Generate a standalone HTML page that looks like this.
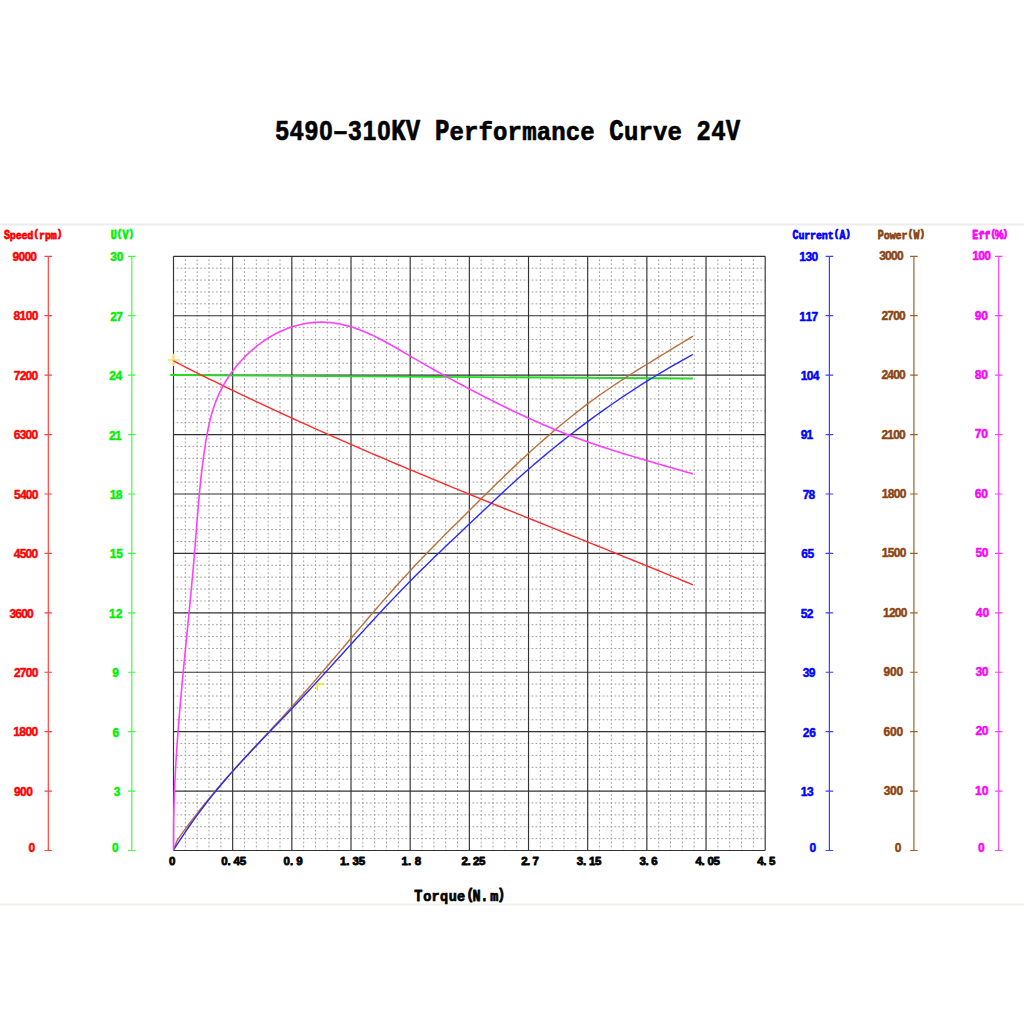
<!DOCTYPE html><html><head><meta charset="utf-8"><style>html,body{margin:0;padding:0;background:#fff;overflow:hidden}svg{display:block}</style></head><body>
<svg width="1024" height="1024" viewBox="0 0 1024 1024">
<rect width="1024" height="1024" fill="#fff"/>
<rect x="0" y="223.5" width="1024" height="2" fill="#ececec"/>
<rect x="0" y="903.5" width="1024" height="2" fill="#f1f1ea"/>
<g font-family="Liberation Sans" font-weight="bold" font-size="24.00" fill="#000" stroke="#000" stroke-width="0.60" stroke-linejoin="round"><text transform="translate(282.24,140.30) scale(1.000,1.165)" x="-6.67" y="0">5</text><text transform="translate(296.77,140.30) scale(1.000,1.165)" x="-6.67" y="0">4</text><text transform="translate(311.31,140.30) scale(1.000,1.165)" x="-6.67" y="0">9</text><text transform="translate(325.84,140.30) scale(1.000,1.165)" x="-6.67" y="0">0</text><text transform="translate(340.38,140.30) scale(1.000,1.165)" x="-6.67" y="0">–</text><text transform="translate(354.91,140.30) scale(1.000,1.165)" x="-6.67" y="0">3</text><text transform="translate(369.45,140.30) scale(1.000,1.165)" x="-6.67" y="0">1</text><text transform="translate(383.98,140.30) scale(1.000,1.165)" x="-6.67" y="0">0</text><text font-family="Liberation Mono" transform="translate(398.52,140.30) scale(1.000,1.239)" x="-7.20" y="0">K</text><text font-family="Liberation Mono" transform="translate(413.05,140.30) scale(1.000,1.239)" x="-7.20" y="0">V</text><text font-family="Liberation Mono" transform="translate(442.12,140.30) scale(1.000,1.239)" x="-7.20" y="0">P</text><text font-family="Liberation Mono" transform="translate(456.66,140.30) scale(1.000,1.095)" x="-7.20" y="0">e</text><text font-family="Liberation Mono" transform="translate(471.19,140.30) scale(1.000,1.095)" x="-7.20" y="0">r</text><text font-family="Liberation Mono" transform="translate(485.73,140.30) scale(1.000,1.095)" x="-7.20" y="0">f</text><text font-family="Liberation Mono" transform="translate(500.26,140.30) scale(1.000,1.095)" x="-7.20" y="0">o</text><text font-family="Liberation Mono" transform="translate(514.80,140.30) scale(1.000,1.095)" x="-7.20" y="0">r</text><text font-family="Liberation Mono" transform="translate(529.33,140.30) scale(1.000,1.095)" x="-7.20" y="0">m</text><text font-family="Liberation Mono" transform="translate(543.87,140.30) scale(1.000,1.095)" x="-7.20" y="0">a</text><text font-family="Liberation Mono" transform="translate(558.40,140.30) scale(1.000,1.095)" x="-7.20" y="0">n</text><text font-family="Liberation Mono" transform="translate(572.94,140.30) scale(1.000,1.095)" x="-7.20" y="0">c</text><text font-family="Liberation Mono" transform="translate(587.47,140.30) scale(1.000,1.095)" x="-7.20" y="0">e</text><text font-family="Liberation Mono" transform="translate(616.54,140.30) scale(1.000,1.239)" x="-7.20" y="0">C</text><text font-family="Liberation Mono" transform="translate(631.08,140.30) scale(1.000,1.095)" x="-7.20" y="0">u</text><text font-family="Liberation Mono" transform="translate(645.61,140.30) scale(1.000,1.095)" x="-7.20" y="0">r</text><text font-family="Liberation Mono" transform="translate(660.15,140.30) scale(1.000,1.095)" x="-7.20" y="0">v</text><text font-family="Liberation Mono" transform="translate(674.68,140.30) scale(1.000,1.095)" x="-7.20" y="0">e</text><text transform="translate(703.75,140.30) scale(1.000,1.165)" x="-6.67" y="0">2</text><text transform="translate(718.29,140.30) scale(1.000,1.165)" x="-6.67" y="0">4</text><text font-family="Liberation Mono" transform="translate(732.82,140.30) scale(1.000,1.239)" x="-7.20" y="0">V</text></g>
<path d="M185.33,256.3V850.5M197.17,256.3V850.5M209.00,256.3V850.5M220.84,256.3V850.5M244.50,256.3V850.5M256.34,256.3V850.5M268.17,256.3V850.5M280.01,256.3V850.5M303.67,256.3V850.5M315.51,256.3V850.5M327.34,256.3V850.5M339.18,256.3V850.5M362.84,256.3V850.5M374.68,256.3V850.5M386.51,256.3V850.5M398.35,256.3V850.5M422.01,256.3V850.5M433.85,256.3V850.5M445.68,256.3V850.5M457.52,256.3V850.5M481.18,256.3V850.5M493.02,256.3V850.5M504.85,256.3V850.5M516.69,256.3V850.5M540.35,256.3V850.5M552.19,256.3V850.5M564.02,256.3V850.5M575.86,256.3V850.5M599.52,256.3V850.5M611.36,256.3V850.5M623.19,256.3V850.5M635.03,256.3V850.5M658.69,256.3V850.5M670.53,256.3V850.5M682.36,256.3V850.5M694.20,256.3V850.5M717.86,256.3V850.5M729.70,256.3V850.5M741.53,256.3V850.5M753.37,256.3V850.5" stroke="#9e9e9e" stroke-width="1" stroke-dasharray="1.7,2.261" stroke-dashoffset="0.85" fill="none"/>
<path d="M173.5,268.18H765.2M173.5,280.07H765.2M173.5,291.95H765.2M173.5,303.84H765.2M173.5,327.60H765.2M173.5,339.49H765.2M173.5,351.37H765.2M173.5,363.26H765.2M173.5,387.02H765.2M173.5,398.91H765.2M173.5,410.79H765.2M173.5,422.68H765.2M173.5,446.44H765.2M173.5,458.33H765.2M173.5,470.21H765.2M173.5,482.10H765.2M173.5,505.86H765.2M173.5,517.75H765.2M173.5,529.63H765.2M173.5,541.52H765.2M173.5,565.28H765.2M173.5,577.17H765.2M173.5,589.05H765.2M173.5,600.94H765.2M173.5,624.70H765.2M173.5,636.59H765.2M173.5,648.47H765.2M173.5,660.36H765.2M173.5,684.12H765.2M173.5,696.01H765.2M173.5,707.89H765.2M173.5,719.78H765.2M173.5,743.54H765.2M173.5,755.43H765.2M173.5,767.31H765.2M173.5,779.20H765.2M173.5,802.96H765.2M173.5,814.85H765.2M173.5,826.73H765.2M173.5,838.62H765.2" stroke="#9e9e9e" stroke-width="1" stroke-dasharray="1.7,2.245" stroke-dashoffset="0.85" fill="none"/>
<path d="M173.50,256.3V850.5M232.67,256.3V850.5M291.84,256.3V850.5M351.01,256.3V850.5M410.18,256.3V850.5M469.35,256.3V850.5M528.52,256.3V850.5M587.69,256.3V850.5M646.86,256.3V850.5M706.03,256.3V850.5M765.20,256.3V850.5M173.5,256.30H765.2M173.5,315.72H765.2M173.5,375.14H765.2M173.5,434.56H765.2M173.5,493.98H765.2M173.5,553.40H765.2M173.5,612.82H765.2M173.5,672.24H765.2M173.5,731.66H765.2M173.5,791.08H765.2M173.5,850.50H765.2" stroke="#333" stroke-width="1.15" fill="none"/>
<path d="M48.3,256.3V850.5" stroke="#ff4040" stroke-width="1.2" fill="none"/>
<path d="M44.5,850.50H52.1M44.5,791.08H52.1M44.5,731.66H52.1M44.5,672.24H52.1M44.5,612.82H52.1M44.5,553.40H52.1M44.5,493.98H52.1M44.5,434.56H52.1M44.5,375.14H52.1M44.5,315.72H52.1M44.5,256.30H52.1" stroke="#ff4040" stroke-width="1.2" fill="none"/>
<text x="28.57" y="851.94" font-family="Liberation Sans" font-weight="bold" font-size="12.00" fill="#ff0000" stroke="#ff0000" stroke-width="0.45" stroke-linejoin="round" transform="translate(0,851.94) scale(1,1.000) translate(0,-851.94)">0</text>
<g font-family="Liberation Sans" font-weight="bold" font-size="12.00" fill="#ff0000" stroke="#ff0000" stroke-width="0.45" stroke-linejoin="round"><text transform="translate(17.42,795.77) scale(1.000,1.000)" x="-3.34" y="0">9</text><text transform="translate(23.44,795.77) scale(1.000,1.000)" x="-3.34" y="0">0</text><text transform="translate(29.46,795.77) scale(1.000,1.000)" x="-3.34" y="0">0</text></g>
<g font-family="Liberation Sans" font-weight="bold" font-size="12.00" fill="#ff0000" stroke="#ff0000" stroke-width="0.45" stroke-linejoin="round"><text transform="translate(16.48,736.35) scale(1.000,1.000)" x="-3.34" y="0">1</text><text transform="translate(22.61,736.35) scale(1.000,1.000)" x="-3.34" y="0">8</text><text transform="translate(28.73,736.35) scale(1.000,1.000)" x="-3.34" y="0">0</text><text transform="translate(34.86,736.35) scale(1.000,1.000)" x="-3.34" y="0">0</text></g>
<g font-family="Liberation Sans" font-weight="bold" font-size="12.00" fill="#ff0000" stroke="#ff0000" stroke-width="0.45" stroke-linejoin="round"><text transform="translate(17.29,676.93) scale(1.000,1.000)" x="-3.34" y="0">2</text><text transform="translate(23.19,676.93) scale(1.000,1.000)" x="-3.34" y="0">7</text><text transform="translate(29.09,676.93) scale(1.000,1.000)" x="-3.34" y="0">0</text><text transform="translate(34.99,676.93) scale(1.000,1.000)" x="-3.34" y="0">0</text></g>
<g font-family="Liberation Sans" font-weight="bold" font-size="12.00" fill="#ff0000" stroke="#ff0000" stroke-width="0.45" stroke-linejoin="round"><text transform="translate(12.71,617.51) scale(1.000,1.000)" x="-3.34" y="0">3</text><text transform="translate(18.61,617.51) scale(1.000,1.000)" x="-3.34" y="0">6</text><text transform="translate(24.51,617.51) scale(1.000,1.000)" x="-3.34" y="0">0</text><text transform="translate(30.41,617.51) scale(1.000,1.000)" x="-3.34" y="0">0</text></g>
<g font-family="Liberation Sans" font-weight="bold" font-size="12.00" fill="#ff0000" stroke="#ff0000" stroke-width="0.45" stroke-linejoin="round"><text transform="translate(17.06,558.09) scale(1.000,1.000)" x="-3.34" y="0">4</text><text transform="translate(22.99,558.09) scale(1.000,1.000)" x="-3.34" y="0">5</text><text transform="translate(28.92,558.09) scale(1.000,1.000)" x="-3.34" y="0">0</text><text transform="translate(34.86,558.09) scale(1.000,1.000)" x="-3.34" y="0">0</text></g>
<g font-family="Liberation Sans" font-weight="bold" font-size="12.00" fill="#ff0000" stroke="#ff0000" stroke-width="0.45" stroke-linejoin="round"><text transform="translate(17.31,498.67) scale(1.000,1.000)" x="-3.34" y="0">5</text><text transform="translate(23.21,498.67) scale(1.000,1.000)" x="-3.34" y="0">4</text><text transform="translate(29.11,498.67) scale(1.000,1.000)" x="-3.34" y="0">0</text><text transform="translate(35.01,498.67) scale(1.000,1.000)" x="-3.34" y="0">0</text></g>
<g font-family="Liberation Sans" font-weight="bold" font-size="12.00" fill="#ff0000" stroke="#ff0000" stroke-width="0.45" stroke-linejoin="round"><text transform="translate(17.10,439.25) scale(1.000,1.000)" x="-3.34" y="0">6</text><text transform="translate(23.02,439.25) scale(1.000,1.000)" x="-3.34" y="0">3</text><text transform="translate(28.94,439.25) scale(1.000,1.000)" x="-3.34" y="0">0</text><text transform="translate(34.86,439.25) scale(1.000,1.000)" x="-3.34" y="0">0</text></g>
<g font-family="Liberation Sans" font-weight="bold" font-size="12.00" fill="#ff0000" stroke="#ff0000" stroke-width="0.45" stroke-linejoin="round"><text transform="translate(17.02,379.83) scale(1.000,1.000)" x="-3.34" y="0">7</text><text transform="translate(22.97,379.83) scale(1.000,1.000)" x="-3.34" y="0">2</text><text transform="translate(28.91,379.83) scale(1.000,1.000)" x="-3.34" y="0">0</text><text transform="translate(34.86,379.83) scale(1.000,1.000)" x="-3.34" y="0">0</text></g>
<g font-family="Liberation Sans" font-weight="bold" font-size="12.00" fill="#ff0000" stroke="#ff0000" stroke-width="0.45" stroke-linejoin="round"><text transform="translate(16.76,320.41) scale(1.000,1.000)" x="-3.34" y="0">8</text><text transform="translate(22.86,320.41) scale(1.000,1.000)" x="-3.34" y="0">1</text><text transform="translate(28.96,320.41) scale(1.000,1.000)" x="-3.34" y="0">0</text><text transform="translate(35.06,320.41) scale(1.000,1.000)" x="-3.34" y="0">0</text></g>
<g font-family="Liberation Sans" font-weight="bold" font-size="12.00" fill="#ff0000" stroke="#ff0000" stroke-width="0.45" stroke-linejoin="round"><text transform="translate(15.82,260.99) scale(1.000,1.000)" x="-3.34" y="0">9</text><text transform="translate(21.77,260.99) scale(1.000,1.000)" x="-3.34" y="0">0</text><text transform="translate(27.71,260.99) scale(1.000,1.000)" x="-3.34" y="0">0</text><text transform="translate(33.66,260.99) scale(1.000,1.000)" x="-3.34" y="0">0</text></g>
<g font-family="Liberation Sans" font-weight="bold" font-size="10.00" fill="#ff0000" stroke="#ff0000" stroke-width="0.65" stroke-linejoin="round"><text font-family="Liberation Mono" transform="translate(6.91,238.60) scale(1.000,1.275)" x="-3.00" y="0">S</text><text font-family="Liberation Mono" transform="translate(12.77,238.60) scale(1.000,1.168)" x="-3.00" y="0">p</text><text font-family="Liberation Mono" transform="translate(18.63,238.60) scale(1.000,1.168)" x="-3.00" y="0">e</text><text font-family="Liberation Mono" transform="translate(24.49,238.60) scale(1.000,1.168)" x="-3.00" y="0">e</text><text font-family="Liberation Mono" transform="translate(30.35,238.60) scale(1.000,1.168)" x="-3.00" y="0">d</text><text transform="translate(36.20,237.19) scale(1.000,1.080)" x="-1.67" y="0">(</text><text font-family="Liberation Mono" transform="translate(42.06,238.60) scale(1.000,1.168)" x="-3.00" y="0">r</text><text font-family="Liberation Mono" transform="translate(47.92,238.60) scale(1.000,1.168)" x="-3.00" y="0">p</text><text font-family="Liberation Mono" transform="translate(53.78,238.60) scale(1.000,1.168)" x="-3.00" y="0">m</text><text transform="translate(59.63,237.19) scale(1.000,1.080)" x="-1.67" y="0">)</text></g>
<path d="M131.8,256.3V850.5" stroke="#40ff40" stroke-width="1.2" fill="none"/>
<path d="M128.0,850.50H135.6M128.0,791.08H135.6M128.0,731.66H135.6M128.0,672.24H135.6M128.0,612.82H135.6M128.0,553.40H135.6M128.0,493.98H135.6M128.0,434.56H135.6M128.0,375.14H135.6M128.0,315.72H135.6M128.0,256.30H135.6" stroke="#40ff40" stroke-width="1.2" fill="none"/>
<text x="112.02" y="851.59" font-family="Liberation Sans" font-weight="bold" font-size="12.00" fill="#00f000" stroke="#00f000" stroke-width="0.45" stroke-linejoin="round" transform="translate(0,851.59) scale(1,1.000) translate(0,-851.59)">0</text>
<text x="113.64" y="796.07" font-family="Liberation Sans" font-weight="bold" font-size="12.00" fill="#00f000" stroke="#00f000" stroke-width="0.45" stroke-linejoin="round" transform="translate(0,796.07) scale(1,1.000) translate(0,-796.07)">3</text>
<text x="112.51" y="736.65" font-family="Liberation Sans" font-weight="bold" font-size="12.00" fill="#00f000" stroke="#00f000" stroke-width="0.45" stroke-linejoin="round" transform="translate(0,736.65) scale(1,1.000) translate(0,-736.65)">6</text>
<text x="112.18" y="677.23" font-family="Liberation Sans" font-weight="bold" font-size="12.00" fill="#00f000" stroke="#00f000" stroke-width="0.45" stroke-linejoin="round" transform="translate(0,677.23) scale(1,1.000) translate(0,-677.23)">9</text>
<g font-family="Liberation Sans" font-weight="bold" font-size="12.00" fill="#00f000" stroke="#00f000" stroke-width="0.45" stroke-linejoin="round"><text transform="translate(112.28,617.81) scale(1.000,1.000)" x="-3.34" y="0">1</text><text transform="translate(119.14,617.81) scale(1.000,1.000)" x="-3.34" y="0">2</text></g>
<g font-family="Liberation Sans" font-weight="bold" font-size="12.00" fill="#00f000" stroke="#00f000" stroke-width="0.45" stroke-linejoin="round"><text transform="translate(113.18,558.39) scale(1.000,1.000)" x="-3.34" y="0">1</text><text transform="translate(119.60,558.39) scale(1.000,1.000)" x="-3.34" y="0">5</text></g>
<g font-family="Liberation Sans" font-weight="bold" font-size="12.00" fill="#00f000" stroke="#00f000" stroke-width="0.45" stroke-linejoin="round"><text transform="translate(113.16,498.97) scale(1.000,1.000)" x="-3.34" y="0">1</text><text transform="translate(119.06,498.97) scale(1.000,1.000)" x="-3.34" y="0">8</text></g>
<g font-family="Liberation Sans" font-weight="bold" font-size="12.00" fill="#00f000" stroke="#00f000" stroke-width="0.45" stroke-linejoin="round"><text transform="translate(112.31,439.55) scale(1.000,1.000)" x="-3.34" y="0">2</text><text transform="translate(118.21,439.55) scale(1.000,1.000)" x="-3.34" y="0">1</text></g>
<g font-family="Liberation Sans" font-weight="bold" font-size="12.00" fill="#00f000" stroke="#00f000" stroke-width="0.45" stroke-linejoin="round"><text transform="translate(112.62,380.13) scale(1.000,1.000)" x="-3.34" y="0">2</text><text transform="translate(118.73,380.13) scale(1.000,1.000)" x="-3.34" y="0">4</text></g>
<g font-family="Liberation Sans" font-weight="bold" font-size="12.00" fill="#00f000" stroke="#00f000" stroke-width="0.45" stroke-linejoin="round"><text transform="translate(113.61,320.71) scale(1.000,1.000)" x="-3.34" y="0">2</text><text transform="translate(119.51,320.71) scale(1.000,1.000)" x="-3.34" y="0">7</text></g>
<g font-family="Liberation Sans" font-weight="bold" font-size="12.00" fill="#00f000" stroke="#00f000" stroke-width="0.45" stroke-linejoin="round"><text transform="translate(113.66,261.29) scale(1.000,1.000)" x="-3.34" y="0">3</text><text transform="translate(120.06,261.29) scale(1.000,1.000)" x="-3.34" y="0">0</text></g>
<g font-family="Liberation Sans" font-weight="bold" font-size="10.00" fill="#00f000" stroke="#00f000" stroke-width="0.65" stroke-linejoin="round"><text font-family="Liberation Mono" transform="translate(113.62,238.60) scale(1.000,1.275)" x="-3.00" y="0">U</text><text transform="translate(119.52,237.19) scale(1.000,1.080)" x="-1.67" y="0">(</text><text font-family="Liberation Mono" transform="translate(125.43,238.60) scale(1.000,1.275)" x="-3.00" y="0">V</text><text transform="translate(131.33,237.19) scale(1.000,1.080)" x="-1.67" y="0">)</text></g>
<path d="M829.4,256.3V850.5" stroke="#4040ff" stroke-width="1.2" fill="none"/>
<path d="M825.6,850.50H833.2M825.6,791.08H833.2M825.6,731.66H833.2M825.6,672.24H833.2M825.6,612.82H833.2M825.6,553.40H833.2M825.6,493.98H833.2M825.6,434.56H833.2M825.6,375.14H833.2M825.6,315.72H833.2M825.6,256.30H833.2" stroke="#4040ff" stroke-width="1.2" fill="none"/>
<text x="809.57" y="852.44" font-family="Liberation Sans" font-weight="bold" font-size="12.00" fill="#0000ff" stroke="#0000ff" stroke-width="0.45" stroke-linejoin="round" transform="translate(0,852.44) scale(1,1.000) translate(0,-852.44)">0</text>
<g font-family="Liberation Sans" font-weight="bold" font-size="12.00" fill="#0000ff" stroke="#0000ff" stroke-width="0.45" stroke-linejoin="round"><text transform="translate(804.18,795.97) scale(1.000,1.000)" x="-3.34" y="0">1</text><text transform="translate(810.30,795.97) scale(1.000,1.000)" x="-3.34" y="0">3</text></g>
<g font-family="Liberation Sans" font-weight="bold" font-size="12.00" fill="#0000ff" stroke="#0000ff" stroke-width="0.45" stroke-linejoin="round"><text transform="translate(806.12,736.55) scale(1.000,1.000)" x="-3.34" y="0">2</text><text transform="translate(812.60,736.55) scale(1.000,1.000)" x="-3.34" y="0">6</text></g>
<g font-family="Liberation Sans" font-weight="bold" font-size="12.00" fill="#0000ff" stroke="#0000ff" stroke-width="0.45" stroke-linejoin="round"><text transform="translate(806.13,677.13) scale(1.000,1.000)" x="-3.34" y="0">3</text><text transform="translate(812.03,677.13) scale(1.000,1.000)" x="-3.34" y="0">9</text></g>
<g font-family="Liberation Sans" font-weight="bold" font-size="12.00" fill="#0000ff" stroke="#0000ff" stroke-width="0.45" stroke-linejoin="round"><text transform="translate(803.97,617.71) scale(1.000,1.000)" x="-3.34" y="0">5</text><text transform="translate(810.04,617.71) scale(1.000,1.000)" x="-3.34" y="0">2</text></g>
<g font-family="Liberation Sans" font-weight="bold" font-size="12.00" fill="#0000ff" stroke="#0000ff" stroke-width="0.45" stroke-linejoin="round"><text transform="translate(804.50,558.29) scale(1.000,1.000)" x="-3.34" y="0">6</text><text transform="translate(810.90,558.29) scale(1.000,1.000)" x="-3.34" y="0">5</text></g>
<g font-family="Liberation Sans" font-weight="bold" font-size="12.00" fill="#0000ff" stroke="#0000ff" stroke-width="0.45" stroke-linejoin="round"><text transform="translate(805.98,498.87) scale(1.000,1.000)" x="-3.34" y="0">7</text><text transform="translate(811.88,498.87) scale(1.000,1.000)" x="-3.34" y="0">8</text></g>
<g font-family="Liberation Sans" font-weight="bold" font-size="12.00" fill="#0000ff" stroke="#0000ff" stroke-width="0.45" stroke-linejoin="round"><text transform="translate(803.96,439.45) scale(1.000,1.000)" x="-3.34" y="0">9</text><text transform="translate(809.86,439.45) scale(1.000,1.000)" x="-3.34" y="0">1</text></g>
<g font-family="Liberation Sans" font-weight="bold" font-size="12.00" fill="#0000ff" stroke="#0000ff" stroke-width="0.45" stroke-linejoin="round"><text transform="translate(804.18,380.03) scale(1.000,1.000)" x="-3.34" y="0">1</text><text transform="translate(810.15,380.03) scale(1.000,1.000)" x="-3.34" y="0">0</text><text transform="translate(816.13,380.03) scale(1.000,1.000)" x="-3.34" y="0">4</text></g>
<g font-family="Liberation Sans" font-weight="bold" font-size="12.00" fill="#0000ff" stroke="#0000ff" stroke-width="0.45" stroke-linejoin="round"><text transform="translate(802.58,320.61) scale(1.000,1.000)" x="-3.34" y="0">1</text><text transform="translate(808.74,320.61) scale(1.000,1.000)" x="-3.34" y="0">1</text><text transform="translate(814.89,320.61) scale(1.000,1.000)" x="-3.34" y="0">7</text></g>
<g font-family="Liberation Sans" font-weight="bold" font-size="12.00" fill="#0000ff" stroke="#0000ff" stroke-width="0.45" stroke-linejoin="round"><text transform="translate(802.58,261.19) scale(1.000,1.000)" x="-3.34" y="0">1</text><text transform="translate(808.72,261.19) scale(1.000,1.000)" x="-3.34" y="0">3</text><text transform="translate(814.86,261.19) scale(1.000,1.000)" x="-3.34" y="0">0</text></g>
<g font-family="Liberation Sans" font-weight="bold" font-size="10.00" fill="#0000ff" stroke="#0000ff" stroke-width="0.65" stroke-linejoin="round"><text font-family="Liberation Mono" transform="translate(795.51,238.60) scale(1.000,1.275)" x="-3.00" y="0">C</text><text font-family="Liberation Mono" transform="translate(801.37,238.60) scale(1.000,1.168)" x="-3.00" y="0">u</text><text font-family="Liberation Mono" transform="translate(807.23,238.60) scale(1.000,1.168)" x="-3.00" y="0">r</text><text font-family="Liberation Mono" transform="translate(813.08,238.60) scale(1.000,1.168)" x="-3.00" y="0">r</text><text font-family="Liberation Mono" transform="translate(818.94,238.60) scale(1.000,1.168)" x="-3.00" y="0">e</text><text font-family="Liberation Mono" transform="translate(824.80,238.60) scale(1.000,1.168)" x="-3.00" y="0">n</text><text font-family="Liberation Mono" transform="translate(830.66,238.60) scale(1.000,1.168)" x="-3.00" y="0">t</text><text transform="translate(836.52,237.19) scale(1.000,1.080)" x="-1.67" y="0">(</text><text font-family="Liberation Mono" transform="translate(842.37,238.60) scale(1.000,1.275)" x="-3.00" y="0">A</text><text transform="translate(848.23,237.19) scale(1.000,1.080)" x="-1.67" y="0">)</text></g>
<path d="M913.9,256.3V850.5" stroke="#a0622a" stroke-width="1.2" fill="none"/>
<path d="M910.1,850.50H917.7M910.1,791.08H917.7M910.1,731.66H917.7M910.1,672.24H917.7M910.1,612.82H917.7M910.1,553.40H917.7M910.1,493.98H917.7M910.1,434.56H917.7M910.1,375.14H917.7M910.1,315.72H917.7M910.1,256.30H917.7" stroke="#a0622a" stroke-width="1.2" fill="none"/>
<text x="894.72" y="852.19" font-family="Liberation Sans" font-weight="bold" font-size="12.00" fill="#8b4513" stroke="#8b4513" stroke-width="0.45" stroke-linejoin="round" transform="translate(0,852.19) scale(1,1.000) translate(0,-852.19)">0</text>
<g font-family="Liberation Sans" font-weight="bold" font-size="12.00" fill="#8b4513" stroke="#8b4513" stroke-width="0.45" stroke-linejoin="round"><text transform="translate(886.96,795.07) scale(1.000,1.000)" x="-3.34" y="0">3</text><text transform="translate(893.36,795.07) scale(1.000,1.000)" x="-3.34" y="0">0</text><text transform="translate(899.76,795.07) scale(1.000,1.000)" x="-3.34" y="0">0</text></g>
<g font-family="Liberation Sans" font-weight="bold" font-size="12.00" fill="#8b4513" stroke="#8b4513" stroke-width="0.45" stroke-linejoin="round"><text transform="translate(886.80,735.65) scale(1.000,1.000)" x="-3.34" y="0">6</text><text transform="translate(893.28,735.65) scale(1.000,1.000)" x="-3.34" y="0">0</text><text transform="translate(899.76,735.65) scale(1.000,1.000)" x="-3.34" y="0">0</text></g>
<g font-family="Liberation Sans" font-weight="bold" font-size="12.00" fill="#8b4513" stroke="#8b4513" stroke-width="0.45" stroke-linejoin="round"><text transform="translate(886.82,676.23) scale(1.000,1.000)" x="-3.34" y="0">9</text><text transform="translate(893.29,676.23) scale(1.000,1.000)" x="-3.34" y="0">0</text><text transform="translate(899.76,676.23) scale(1.000,1.000)" x="-3.34" y="0">0</text></g>
<g font-family="Liberation Sans" font-weight="bold" font-size="12.00" fill="#8b4513" stroke="#8b4513" stroke-width="0.45" stroke-linejoin="round"><text transform="translate(886.37,616.81) scale(1.000,1.000)" x="-3.34" y="0">1</text><text transform="translate(892.27,616.81) scale(1.000,1.000)" x="-3.34" y="0">2</text><text transform="translate(898.17,616.81) scale(1.000,1.000)" x="-3.34" y="0">0</text><text transform="translate(904.07,616.81) scale(1.000,1.000)" x="-3.34" y="0">0</text></g>
<g font-family="Liberation Sans" font-weight="bold" font-size="12.00" fill="#8b4513" stroke="#8b4513" stroke-width="0.45" stroke-linejoin="round"><text transform="translate(885.18,557.39) scale(1.000,1.000)" x="-3.34" y="0">1</text><text transform="translate(891.11,557.39) scale(1.000,1.000)" x="-3.34" y="0">5</text><text transform="translate(897.03,557.39) scale(1.000,1.000)" x="-3.34" y="0">0</text><text transform="translate(902.96,557.39) scale(1.000,1.000)" x="-3.34" y="0">0</text></g>
<g font-family="Liberation Sans" font-weight="bold" font-size="12.00" fill="#8b4513" stroke="#8b4513" stroke-width="0.45" stroke-linejoin="round"><text transform="translate(885.18,497.97) scale(1.000,1.000)" x="-3.34" y="0">1</text><text transform="translate(891.11,497.97) scale(1.000,1.000)" x="-3.34" y="0">8</text><text transform="translate(897.03,497.97) scale(1.000,1.000)" x="-3.34" y="0">0</text><text transform="translate(902.96,497.97) scale(1.000,1.000)" x="-3.34" y="0">0</text></g>
<g font-family="Liberation Sans" font-weight="bold" font-size="12.00" fill="#8b4513" stroke="#8b4513" stroke-width="0.45" stroke-linejoin="round"><text transform="translate(884.74,438.55) scale(1.000,1.000)" x="-3.34" y="0">2</text><text transform="translate(890.64,438.55) scale(1.000,1.000)" x="-3.34" y="0">1</text><text transform="translate(896.54,438.55) scale(1.000,1.000)" x="-3.34" y="0">0</text><text transform="translate(902.44,438.55) scale(1.000,1.000)" x="-3.34" y="0">0</text></g>
<g font-family="Liberation Sans" font-weight="bold" font-size="12.00" fill="#8b4513" stroke="#8b4513" stroke-width="0.45" stroke-linejoin="round"><text transform="translate(884.74,379.13) scale(1.000,1.000)" x="-3.34" y="0">2</text><text transform="translate(890.64,379.13) scale(1.000,1.000)" x="-3.34" y="0">4</text><text transform="translate(896.54,379.13) scale(1.000,1.000)" x="-3.34" y="0">0</text><text transform="translate(902.44,379.13) scale(1.000,1.000)" x="-3.34" y="0">0</text></g>
<g font-family="Liberation Sans" font-weight="bold" font-size="12.00" fill="#8b4513" stroke="#8b4513" stroke-width="0.45" stroke-linejoin="round"><text transform="translate(884.74,319.71) scale(1.000,1.000)" x="-3.34" y="0">2</text><text transform="translate(890.64,319.71) scale(1.000,1.000)" x="-3.34" y="0">7</text><text transform="translate(896.54,319.71) scale(1.000,1.000)" x="-3.34" y="0">0</text><text transform="translate(902.44,319.71) scale(1.000,1.000)" x="-3.34" y="0">0</text></g>
<g font-family="Liberation Sans" font-weight="bold" font-size="12.00" fill="#8b4513" stroke="#8b4513" stroke-width="0.45" stroke-linejoin="round"><text transform="translate(882.46,260.29) scale(1.000,1.000)" x="-3.34" y="0">3</text><text transform="translate(888.43,260.29) scale(1.000,1.000)" x="-3.34" y="0">0</text><text transform="translate(894.39,260.29) scale(1.000,1.000)" x="-3.34" y="0">0</text><text transform="translate(900.36,260.29) scale(1.000,1.000)" x="-3.34" y="0">0</text></g>
<g font-family="Liberation Sans" font-weight="bold" font-size="10.00" fill="#8b4513" stroke="#8b4513" stroke-width="0.65" stroke-linejoin="round"><text font-family="Liberation Mono" transform="translate(880.74,238.60) scale(1.000,1.275)" x="-3.00" y="0">P</text><text font-family="Liberation Mono" transform="translate(886.68,238.60) scale(1.000,1.168)" x="-3.00" y="0">o</text><text font-family="Liberation Mono" transform="translate(892.62,238.60) scale(1.000,1.168)" x="-3.00" y="0">w</text><text font-family="Liberation Mono" transform="translate(898.56,238.60) scale(1.000,1.168)" x="-3.00" y="0">e</text><text font-family="Liberation Mono" transform="translate(904.51,238.60) scale(1.000,1.168)" x="-3.00" y="0">r</text><text transform="translate(910.45,237.19) scale(1.000,1.080)" x="-1.67" y="0">(</text><text font-family="Liberation Mono" transform="translate(916.39,238.60) scale(1.000,1.275)" x="-3.00" y="0">W</text><text transform="translate(922.33,237.19) scale(1.000,1.080)" x="-1.67" y="0">)</text></g>
<path d="M998.7,256.3V850.5" stroke="#ff40ff" stroke-width="1.2" fill="none"/>
<path d="M994.9,850.50H1002.5M994.9,791.08H1002.5M994.9,731.66H1002.5M994.9,672.24H1002.5M994.9,612.82H1002.5M994.9,553.40H1002.5M994.9,493.98H1002.5M994.9,434.56H1002.5M994.9,375.14H1002.5M994.9,315.72H1002.5M994.9,256.30H1002.5" stroke="#ff40ff" stroke-width="1.2" fill="none"/>
<text x="978.12" y="852.19" font-family="Liberation Sans" font-weight="bold" font-size="12.00" fill="#ff00ff" stroke="#ff00ff" stroke-width="0.45" stroke-linejoin="round" transform="translate(0,852.19) scale(1,1.000) translate(0,-852.19)">0</text>
<g font-family="Liberation Sans" font-weight="bold" font-size="12.00" fill="#ff00ff" stroke="#ff00ff" stroke-width="0.45" stroke-linejoin="round"><text transform="translate(978.38,794.87) scale(1.000,1.000)" x="-3.34" y="0">1</text><text transform="translate(985.16,794.87) scale(1.000,1.000)" x="-3.34" y="0">0</text></g>
<g font-family="Liberation Sans" font-weight="bold" font-size="12.00" fill="#ff00ff" stroke="#ff00ff" stroke-width="0.45" stroke-linejoin="round"><text transform="translate(978.72,735.45) scale(1.000,1.000)" x="-3.34" y="0">2</text><text transform="translate(985.16,735.45) scale(1.000,1.000)" x="-3.34" y="0">0</text></g>
<g font-family="Liberation Sans" font-weight="bold" font-size="12.00" fill="#ff00ff" stroke="#ff00ff" stroke-width="0.45" stroke-linejoin="round"><text transform="translate(978.86,676.03) scale(1.000,1.000)" x="-3.34" y="0">3</text><text transform="translate(985.16,676.03) scale(1.000,1.000)" x="-3.34" y="0">0</text></g>
<g font-family="Liberation Sans" font-weight="bold" font-size="12.00" fill="#ff00ff" stroke="#ff00ff" stroke-width="0.45" stroke-linejoin="round"><text transform="translate(978.96,616.61) scale(1.000,1.000)" x="-3.34" y="0">4</text><text transform="translate(985.76,616.61) scale(1.000,1.000)" x="-3.34" y="0">0</text></g>
<g font-family="Liberation Sans" font-weight="bold" font-size="12.00" fill="#ff00ff" stroke="#ff00ff" stroke-width="0.45" stroke-linejoin="round"><text transform="translate(978.77,557.19) scale(1.000,1.000)" x="-3.34" y="0">5</text><text transform="translate(985.16,557.19) scale(1.000,1.000)" x="-3.34" y="0">0</text></g>
<g font-family="Liberation Sans" font-weight="bold" font-size="12.00" fill="#ff00ff" stroke="#ff00ff" stroke-width="0.45" stroke-linejoin="round"><text transform="translate(978.10,497.77) scale(1.000,1.000)" x="-3.34" y="0">6</text><text transform="translate(984.56,497.77) scale(1.000,1.000)" x="-3.34" y="0">0</text></g>
<g font-family="Liberation Sans" font-weight="bold" font-size="12.00" fill="#ff00ff" stroke="#ff00ff" stroke-width="0.45" stroke-linejoin="round"><text transform="translate(978.02,438.35) scale(1.000,1.000)" x="-3.34" y="0">7</text><text transform="translate(984.56,438.35) scale(1.000,1.000)" x="-3.34" y="0">0</text></g>
<g font-family="Liberation Sans" font-weight="bold" font-size="12.00" fill="#ff00ff" stroke="#ff00ff" stroke-width="0.45" stroke-linejoin="round"><text transform="translate(978.16,378.93) scale(1.000,1.000)" x="-3.34" y="0">8</text><text transform="translate(984.56,378.93) scale(1.000,1.000)" x="-3.34" y="0">0</text></g>
<g font-family="Liberation Sans" font-weight="bold" font-size="12.00" fill="#ff00ff" stroke="#ff00ff" stroke-width="0.45" stroke-linejoin="round"><text transform="translate(978.12,319.51) scale(1.000,1.000)" x="-3.34" y="0">9</text><text transform="translate(984.56,319.51) scale(1.000,1.000)" x="-3.34" y="0">0</text></g>
<g font-family="Liberation Sans" font-weight="bold" font-size="12.00" fill="#ff00ff" stroke="#ff00ff" stroke-width="0.45" stroke-linejoin="round"><text transform="translate(975.48,260.09) scale(1.000,1.000)" x="-3.34" y="0">1</text><text transform="translate(981.47,260.09) scale(1.000,1.000)" x="-3.34" y="0">0</text><text transform="translate(987.46,260.09) scale(1.000,1.000)" x="-3.34" y="0">0</text></g>
<g font-family="Liberation Sans" font-weight="bold" font-size="10.00" fill="#ff00ff" stroke="#ff00ff" stroke-width="0.65" stroke-linejoin="round"><text font-family="Liberation Mono" transform="translate(975.23,238.60) scale(1.000,1.275)" x="-3.00" y="0">E</text><text font-family="Liberation Mono" transform="translate(981.25,238.60) scale(1.000,1.168)" x="-3.00" y="0">f</text><text font-family="Liberation Mono" transform="translate(987.27,238.60) scale(1.000,1.168)" x="-3.00" y="0">f</text><text transform="translate(993.29,237.19) scale(1.000,1.080)" x="-1.67" y="0">(</text><text transform="translate(999.31,238.60) scale(1.000,1.186)" x="-4.45" y="0">%</text><text transform="translate(1005.33,237.19) scale(1.000,1.080)" x="-1.67" y="0">)</text></g>
<text x="169.01" y="865.00" font-family="Liberation Sans" font-weight="bold" font-size="11.50" fill="#000" stroke="#000" stroke-width="0.80" stroke-linejoin="round" transform="translate(0,865.00) scale(1,1.000) translate(0,-865.00)">0</text>
<g font-family="Liberation Sans" font-weight="bold" font-size="11.50" fill="#000" stroke="#000" stroke-width="0.80" stroke-linejoin="round"><text transform="translate(224.34,865.00) scale(1.000,1.000)" x="-3.20" y="0">0</text><text transform="translate(229.01,865.00) scale(1.000,1.000)" x="-1.60" y="0">.</text><text transform="translate(236.80,865.00) scale(1.000,1.000)" x="-3.20" y="0">4</text><text transform="translate(243.02,865.00) scale(1.000,1.000)" x="-3.20" y="0">5</text></g>
<g font-family="Liberation Sans" font-weight="bold" font-size="11.50" fill="#000" stroke="#000" stroke-width="0.80" stroke-linejoin="round"><text transform="translate(286.74,865.00) scale(1.000,1.000)" x="-3.20" y="0">0</text><text transform="translate(291.50,865.00) scale(1.000,1.000)" x="-1.60" y="0">.</text><text transform="translate(299.43,865.00) scale(1.000,1.000)" x="-3.20" y="0">9</text></g>
<g font-family="Liberation Sans" font-weight="bold" font-size="11.50" fill="#000" stroke="#000" stroke-width="0.80" stroke-linejoin="round"><text transform="translate(343.07,865.00) scale(1.000,1.000)" x="-3.20" y="0">1</text><text transform="translate(347.76,865.00) scale(1.000,1.000)" x="-1.60" y="0">.</text><text transform="translate(355.57,865.00) scale(1.000,1.000)" x="-3.20" y="0">3</text><text transform="translate(361.82,865.00) scale(1.000,1.000)" x="-3.20" y="0">5</text></g>
<g font-family="Liberation Sans" font-weight="bold" font-size="11.50" fill="#000" stroke="#000" stroke-width="0.80" stroke-linejoin="round"><text transform="translate(404.67,865.00) scale(1.000,1.000)" x="-3.20" y="0">1</text><text transform="translate(409.69,865.00) scale(1.000,1.000)" x="-1.60" y="0">.</text><text transform="translate(418.06,865.00) scale(1.000,1.000)" x="-3.20" y="0">8</text></g>
<g font-family="Liberation Sans" font-weight="bold" font-size="11.50" fill="#000" stroke="#000" stroke-width="0.80" stroke-linejoin="round"><text transform="translate(464.60,865.00) scale(1.000,1.000)" x="-3.20" y="0">2</text><text transform="translate(468.98,865.00) scale(1.000,1.000)" x="-1.60" y="0">.</text><text transform="translate(476.28,865.00) scale(1.000,1.000)" x="-3.20" y="0">2</text><text transform="translate(482.12,865.00) scale(1.000,1.000)" x="-3.20" y="0">5</text></g>
<g font-family="Liberation Sans" font-weight="bold" font-size="11.50" fill="#000" stroke="#000" stroke-width="0.80" stroke-linejoin="round"><text transform="translate(524.40,865.00) scale(1.000,1.000)" x="-3.20" y="0">2</text><text transform="translate(528.68,865.00) scale(1.000,1.000)" x="-1.60" y="0">.</text><text transform="translate(535.81,865.00) scale(1.000,1.000)" x="-3.20" y="0">7</text></g>
<g font-family="Liberation Sans" font-weight="bold" font-size="11.50" fill="#000" stroke="#000" stroke-width="0.80" stroke-linejoin="round"><text transform="translate(580.03,865.00) scale(1.000,1.000)" x="-3.20" y="0">3</text><text transform="translate(584.56,865.00) scale(1.000,1.000)" x="-1.60" y="0">.</text><text transform="translate(592.09,865.00) scale(1.000,1.000)" x="-3.20" y="0">1</text><text transform="translate(598.12,865.00) scale(1.000,1.000)" x="-3.20" y="0">5</text></g>
<g font-family="Liberation Sans" font-weight="bold" font-size="11.50" fill="#000" stroke="#000" stroke-width="0.80" stroke-linejoin="round"><text transform="translate(642.63,865.00) scale(1.000,1.000)" x="-3.20" y="0">3</text><text transform="translate(647.09,865.00) scale(1.000,1.000)" x="-1.60" y="0">.</text><text transform="translate(654.52,865.00) scale(1.000,1.000)" x="-3.20" y="0">6</text></g>
<g font-family="Liberation Sans" font-weight="bold" font-size="11.50" fill="#000" stroke="#000" stroke-width="0.80" stroke-linejoin="round"><text transform="translate(698.62,865.00) scale(1.000,1.000)" x="-3.20" y="0">4</text><text transform="translate(703.12,865.00) scale(1.000,1.000)" x="-1.60" y="0">.</text><text transform="translate(710.62,865.00) scale(1.000,1.000)" x="-3.20" y="0">0</text><text transform="translate(716.62,865.00) scale(1.000,1.000)" x="-3.20" y="0">5</text></g>
<g font-family="Liberation Sans" font-weight="bold" font-size="11.50" fill="#000" stroke="#000" stroke-width="0.80" stroke-linejoin="round"><text transform="translate(760.52,865.00) scale(1.000,1.000)" x="-3.20" y="0">4</text><text transform="translate(764.91,865.00) scale(1.000,1.000)" x="-1.60" y="0">.</text><text transform="translate(772.22,865.00) scale(1.000,1.000)" x="-3.20" y="0">5</text></g>
<g font-family="Liberation Sans" font-weight="bold" font-size="13.50" fill="#000" stroke="#000" stroke-width="0.70" stroke-linejoin="round"><text font-family="Liberation Mono" transform="translate(418.30,900.60) scale(1.000,1.281)" x="-4.05" y="0">T</text><text font-family="Liberation Mono" transform="translate(427.20,900.60) scale(1.000,1.068)" x="-4.05" y="0">o</text><text font-family="Liberation Mono" transform="translate(435.75,900.60) scale(1.000,1.068)" x="-4.22" y="0">r</text><text font-family="Liberation Mono" transform="translate(443.95,900.60) scale(1.000,1.068)" x="-3.91" y="0">q</text><text font-family="Liberation Mono" transform="translate(452.75,900.60) scale(1.000,1.068)" x="-4.02" y="0">u</text><text font-family="Liberation Mono" transform="translate(460.95,900.60) scale(1.000,1.068)" x="-4.05" y="0">e</text><text transform="translate(470.35,898.69) scale(1.000,1.086)" x="-2.58" y="0">(</text><text font-family="Liberation Mono" transform="translate(476.60,900.60) scale(1.000,1.281)" x="-4.05" y="0">N</text><text transform="translate(484.40,900.60) scale(1.000,1.193)" x="-1.87" y="0">.</text><text font-family="Liberation Mono" transform="translate(494.30,900.60) scale(1.000,1.068)" x="-4.03" y="0">m</text><text transform="translate(501.10,898.69) scale(1.000,1.086)" x="-1.92" y="0">)</text></g>
<path d="M167.8,360H180M173.4,353.7V366" stroke="#f3e45a" stroke-width="1.7" fill="none"/>
<path d="M316.4,684H324.3M317.2,683.2V690.4" stroke="#f5e600" stroke-width="1.6" fill="none"/>
<path d="M170.3,375.0L692.9,378.5" stroke="#22dd22" stroke-width="1.8" fill="none"/>
<path d="M173.40,360.92 L177.40,362.97 L181.39,365.00 L185.39,367.03 L189.38,369.05 L193.38,371.06 L197.38,373.06 L201.37,375.05 L205.37,377.03 L209.37,379.01 L213.36,380.97 L217.36,382.93 L221.35,384.89 L225.35,386.83 L229.35,388.76 L233.34,390.69 L237.34,392.61 L241.33,394.53 L245.33,396.43 L249.33,398.33 L253.32,400.22 L257.32,402.10 L261.32,403.98 L265.31,405.85 L269.31,407.71 L273.30,409.57 L277.30,411.42 L281.30,413.26 L285.29,415.10 L289.29,416.93 L293.28,418.75 L297.28,420.57 L301.28,422.38 L305.27,424.18 L309.27,425.98 L313.27,427.78 L317.26,429.56 L321.26,431.35 L325.25,433.12 L329.25,434.89 L333.25,436.66 L337.24,438.42 L341.24,440.17 L345.23,441.92 L349.23,443.67 L353.23,445.40 L357.22,447.14 L361.22,448.87 L365.22,450.59 L369.21,452.32 L373.21,454.03 L377.20,455.74 L381.20,457.45 L385.20,459.15 L389.19,460.85 L393.19,462.55 L397.18,464.24 L401.18,465.92 L405.18,467.61 L409.17,469.29 L413.17,470.96 L417.17,472.64 L421.16,474.31 L425.16,475.97 L429.15,477.63 L433.15,479.29 L437.15,480.95 L441.14,482.60 L445.14,484.25 L449.13,485.90 L453.13,487.55 L457.13,489.19 L461.12,490.83 L465.12,492.47 L469.12,494.10 L473.11,495.73 L477.11,497.36 L481.10,498.99 L485.10,500.62 L489.10,502.24 L493.09,503.87 L497.09,505.49 L501.08,507.11 L505.08,508.73 L509.08,510.34 L513.07,511.96 L517.07,513.57 L521.07,515.19 L525.06,516.80 L529.06,518.41 L533.05,520.02 L537.05,521.63 L541.05,523.24 L545.04,524.85 L549.04,526.46 L553.03,528.06 L557.03,529.67 L561.03,531.28 L565.02,532.89 L569.02,534.49 L573.02,536.10 L577.01,537.71 L581.01,539.31 L585.00,540.92 L589.00,542.53 L593.00,544.14 L596.99,545.75 L600.99,547.36 L604.98,548.97 L608.98,550.58 L612.98,552.19 L616.97,553.80 L620.97,555.42 L624.97,557.03 L628.96,558.65 L632.96,560.27 L636.95,561.89 L640.95,563.51 L644.95,565.13 L648.94,566.76 L652.94,568.39 L656.93,570.02 L660.93,571.65 L664.93,573.28 L668.92,574.91 L672.92,576.55 L676.92,578.19 L680.91,579.83 L684.91,581.48 L688.90,583.13 L692.90,584.78" stroke="#ff2a2a" stroke-width="1.4" fill="none"/>
<path d="M173.6,850 L177.00,840.59 L181.00,834.95 L185.00,829.43 L189.00,824.03 L193.00,818.74 L197.00,813.56 L201.00,808.48 L204.99,803.50 L208.99,798.60 L212.99,793.78 L216.99,789.04 L220.99,784.37 L224.99,779.76 L228.99,775.21 L232.99,770.72 L236.99,766.27 L240.99,761.86 L244.99,757.49 L248.99,753.14 L252.99,748.82 L256.98,744.51 L260.98,740.21 L264.98,735.92 L268.98,731.63 L272.98,727.33 L276.98,723.02 L280.98,718.68 L284.98,714.32 L288.98,709.94 L292.98,705.51 L296.98,701.04 L300.98,696.54 L304.98,692.00 L308.97,687.44 L312.97,682.84 L316.97,678.22 L320.97,673.57 L324.97,668.91 L328.97,664.24 L332.97,659.55 L336.97,654.85 L340.97,650.14 L344.97,645.43 L348.97,640.72 L352.97,636.01 L356.97,631.31 L360.96,626.62 L364.96,621.94 L368.96,617.27 L372.96,612.63 L376.96,608.00 L380.96,603.40 L384.96,598.83 L388.96,594.29 L392.96,589.78 L396.96,585.30 L400.96,580.87 L404.96,576.48 L408.96,572.14 L412.95,567.84 L416.95,563.59 L420.95,559.39 L424.95,555.22 L428.95,551.09 L432.95,547.00 L436.95,542.93 L440.95,538.88 L444.95,534.86 L448.95,530.86 L452.95,526.87 L456.95,522.89 L460.94,518.92 L464.94,514.95 L468.94,510.98 L472.94,507.00 L476.94,503.03 L480.94,499.06 L484.94,495.09 L488.94,491.14 L492.94,487.21 L496.94,483.29 L500.94,479.40 L504.94,475.53 L508.94,471.69 L512.93,467.88 L516.93,464.11 L520.93,460.36 L524.93,456.65 L528.93,452.98 L532.93,449.34 L536.93,445.74 L540.93,442.17 L544.93,438.65 L548.93,435.17 L552.93,431.73 L556.93,428.34 L560.93,424.99 L564.92,421.69 L568.92,418.43 L572.92,415.23 L576.92,412.08 L580.92,408.97 L584.92,405.92 L588.92,402.93 L592.92,399.99 L596.92,397.10 L600.92,394.26 L604.92,391.47 L608.92,388.72 L612.92,386.02 L616.91,383.34 L620.91,380.71 L624.91,378.11 L628.91,375.53 L632.91,372.99 L636.91,370.46 L640.91,367.96 L644.91,365.48 L648.91,363.01 L652.91,360.56 L656.91,358.11 L660.91,355.67 L664.91,353.24 L668.90,350.80 L672.90,348.37 L676.90,345.93 L680.90,343.49 L684.90,341.03 L688.90,338.57 L692.90,336.08" stroke="#b8703a" stroke-width="1.4" fill="none"/>
<path d="M173.60,849.95 L177.59,843.66 L181.59,837.53 L185.58,831.57 L189.58,825.77 L193.57,820.13 L197.57,814.62 L201.56,809.25 L205.56,804.01 L209.55,798.90 L213.55,793.90 L217.54,789.01 L221.54,784.22 L225.53,779.52 L229.52,774.91 L233.52,770.37 L237.51,765.92 L241.51,761.52 L245.50,757.18 L249.50,752.90 L253.49,748.66 L257.49,744.45 L261.48,740.27 L265.48,736.12 L269.47,731.98 L273.47,727.84 L277.46,723.71 L281.45,719.57 L285.45,715.42 L289.44,711.24 L293.44,707.04 L297.43,702.80 L301.43,698.54 L305.42,694.25 L309.42,689.94 L313.41,685.61 L317.41,681.26 L321.40,676.89 L325.40,672.51 L329.39,668.12 L333.38,663.72 L337.38,659.32 L341.37,654.92 L345.37,650.52 L349.36,646.12 L353.36,641.73 L357.35,637.34 L361.35,632.97 L365.34,628.61 L369.34,624.26 L373.33,619.94 L377.33,615.63 L381.32,611.34 L385.31,607.08 L389.31,602.84 L393.30,598.63 L397.30,594.45 L401.29,590.30 L405.29,586.19 L409.28,582.11 L413.28,578.07 L417.27,574.07 L421.27,570.10 L425.26,566.16 L429.26,562.25 L433.25,558.37 L437.24,554.51 L441.24,550.66 L445.23,546.84 L449.23,543.02 L453.22,539.22 L457.22,535.43 L461.21,531.64 L465.21,527.85 L469.20,524.06 L473.20,520.27 L477.19,516.48 L481.19,512.70 L485.18,508.92 L489.17,505.15 L493.17,501.39 L497.16,497.65 L501.16,493.93 L505.15,490.24 L509.15,486.57 L513.14,482.94 L517.14,479.34 L521.13,475.77 L525.13,472.24 L529.12,468.75 L533.12,465.29 L537.11,461.87 L541.10,458.49 L545.10,455.14 L549.09,451.83 L553.09,448.55 L557.08,445.31 L561.08,442.10 L565.07,438.93 L569.07,435.79 L573.06,432.68 L577.06,429.61 L581.05,426.58 L585.05,423.57 L589.04,420.61 L593.03,417.67 L597.03,414.77 L601.02,411.90 L605.02,409.06 L609.01,406.25 L613.01,403.48 L617.00,400.74 L621.00,398.03 L624.99,395.35 L628.99,392.71 L632.98,390.09 L636.98,387.51 L640.97,384.96 L644.96,382.43 L648.96,379.94 L652.95,377.48 L656.95,375.05 L660.94,372.65 L664.94,370.28 L668.93,367.93 L672.93,365.62 L676.92,363.34 L680.92,361.08 L684.91,358.85 L688.91,356.66 L692.90,354.49" stroke="#2a2aff" stroke-width="1.4" fill="none"/>
<path d="M173.67,850.01 L173.65,848.01 L173.63,846.02 L173.61,844.02 L173.60,842.02 L173.59,840.03 L173.58,838.03 L173.58,836.03 L173.58,834.04 L173.59,832.04 L173.60,830.05 L173.62,828.05 L173.63,826.06 L173.66,824.06 L173.68,822.07 L173.71,820.07 L173.74,818.08 L173.78,816.09 L173.82,814.09 L173.86,812.10 L173.91,810.10 L173.96,808.11 L174.01,806.12 L174.07,804.13 L174.13,802.13 L174.19,800.14 L174.26,798.15 L174.32,796.16 L174.40,794.16 L174.47,792.17 L174.55,790.18 L174.63,788.19 L174.72,786.20 L174.80,784.21 L174.89,782.22 L174.99,780.23 L175.08,778.23 L175.18,776.24 L175.28,774.25 L175.38,772.26 L175.49,770.27 L175.60,768.28 L175.71,766.29 L175.83,764.30 L175.94,762.31 L176.06,760.33 L176.18,758.34 L176.31,756.35 L176.43,754.36 L176.56,752.37 L176.69,750.38 L176.83,748.39 L176.96,746.40 L177.10,744.42 L177.24,742.43 L177.38,740.44 L177.52,738.45 L177.67,736.46 L177.82,734.48 L177.96,732.49 L178.12,730.50 L178.27,728.51 L178.42,726.53 L178.58,724.54 L178.74,722.55 L178.90,720.56 L179.06,718.58 L179.22,716.59 L179.39,714.60 L179.55,712.62 L179.72,710.63 L179.89,708.64 L180.06,706.66 L180.24,704.67 L180.41,702.69 L180.58,700.70 L180.76,698.71 L180.94,696.73 L181.12,694.74 L181.29,692.76 L181.48,690.77 L181.66,688.79 L181.84,686.80 L182.02,684.81 L182.21,682.83 L182.39,680.84 L182.58,678.86 L182.77,676.87 L182.96,674.89 L183.15,672.90 L183.34,670.92 L183.53,668.93 L183.72,666.95 L183.91,664.96 L184.10,662.98 L184.29,660.99 L184.49,659.01 L184.68,657.02 L184.88,655.04 L185.07,653.05 L185.27,651.07 L185.46,649.08 L185.66,647.10 L185.85,645.11 L186.05,643.13 L186.24,641.14 L186.44,639.16 L186.64,637.18 L186.83,635.19 L187.03,633.21 L187.23,631.22 L187.42,629.24 L187.62,627.25 L187.81,625.27 L188.01,623.28 L188.21,621.30 L188.40,619.31 L188.60,617.33 L188.79,615.35 L188.99,613.36 L189.18,611.38 L189.37,609.39 L189.57,607.41 L189.76,605.42 L189.95,603.44 L190.14,601.45 L190.33,599.47 L190.52,597.48 L190.71,595.50 L190.90,593.51 L191.09,591.53 L191.28,589.55 L191.46,587.56 L191.65,585.58 L191.83,583.59 L192.01,581.61 L192.20,579.62 L192.38,577.64 L192.56,575.65 L192.74,573.67 L192.91,571.68 L193.09,569.70 L193.27,567.71 L193.44,565.73 L193.61,563.74 L193.78,561.75 L193.95,559.77 L194.12,557.78 L194.29,555.80 L194.45,553.81 L194.62,551.83 L194.78,549.84 L194.94,547.85 L195.10,545.87 L195.26,543.88 L195.42,541.90 L195.57,539.91 L195.73,537.93 L195.89,535.94 L196.04,533.95 L196.20,531.97 L196.36,529.98 L196.51,528.00 L196.67,526.01 L196.83,524.02 L196.98,522.04 L197.14,520.05 L197.30,518.07 L197.46,516.08 L197.63,514.09 L197.79,512.11 L197.95,510.12 L198.12,508.14 L198.29,506.15 L198.46,504.17 L198.63,502.18 L198.81,500.20 L198.99,498.21 L199.17,496.23 L199.35,494.24 L199.54,492.26 L199.73,490.27 L199.92,488.29 L200.12,486.31 L200.32,484.32 L200.52,482.34 L200.73,480.35 L200.94,478.37 L201.16,476.39 L201.38,474.41 L201.60,472.42 L201.83,470.44 L202.06,468.46 L202.30,466.48 L202.55,464.49 L202.80,462.51 L203.05,460.53 L203.31,458.55 L203.58,456.57 L203.85,454.59 L204.13,452.61 L204.41,450.63 L204.70,448.65 L205.00,446.67 L205.30,444.69 L205.62,442.72 L205.94,440.74 L206.26,438.76 L206.60,436.79 L206.95,434.82 L207.32,432.85 L207.69,430.89 L208.08,428.93 L208.49,426.97 L208.91,425.02 L209.34,423.08 L209.80,421.14 L210.27,419.21 L210.77,417.28 L211.28,415.36 L211.82,413.45 L212.37,411.55 L212.95,409.66 L213.56,407.78 L214.19,405.90 L214.85,404.04 L215.53,402.18 L216.24,400.34 L216.98,398.51 L217.75,396.69 L218.55,394.89 L219.38,393.09 L220.24,391.31 L221.12,389.55 L222.03,387.79 L222.98,386.05 L223.95,384.33 L224.94,382.61 L225.97,380.92 L227.02,379.23 L228.09,377.56 L229.20,375.91 L230.32,374.27 L231.48,372.65 L232.66,371.04 L233.86,369.45 L235.10,367.88 L236.35,366.32 L237.63,364.78 L238.93,363.25 L240.26,361.75 L241.61,360.26 L242.98,358.79 L244.38,357.34 L245.80,355.90 L247.24,354.49 L248.70,353.10 L250.19,351.73 L251.69,350.39 L253.21,349.06 L254.76,347.77 L256.32,346.49 L257.91,345.24 L259.51,344.02 L261.13,342.82 L262.77,341.65 L264.43,340.50 L266.11,339.39 L267.80,338.30 L269.51,337.25 L271.23,336.22 L272.98,335.23 L274.73,334.26 L276.51,333.33 L278.29,332.43 L280.09,331.57 L281.91,330.74 L283.74,329.94 L285.58,329.19 L287.44,328.46 L289.31,327.78 L291.19,327.13 L293.08,326.52 L294.98,325.95 L296.90,325.41 L298.82,324.92 L300.75,324.47 L302.69,324.05 L304.64,323.68 L306.60,323.35 L308.55,323.05 L310.52,322.80 L312.49,322.59 L314.46,322.42 L316.43,322.30 L318.40,322.21 L320.38,322.17 L322.35,322.17 L324.32,322.21 L326.30,322.30 L328.26,322.43 L330.23,322.60 L332.19,322.82 L334.15,323.07 L336.10,323.36 L338.05,323.70 L339.99,324.07 L341.92,324.47 L343.85,324.91 L345.77,325.39 L347.68,325.89 L349.59,326.43 L351.49,327.00 L353.37,327.60 L355.25,328.23 L357.12,328.88 L358.99,329.56 L360.84,330.27 L362.69,331.00 L364.53,331.76 L366.36,332.54 L368.19,333.34 L370.01,334.15 L371.82,334.99 L373.63,335.85 L375.43,336.73 L377.23,337.62 L379.02,338.53 L380.80,339.45 L382.58,340.38 L384.36,341.33 L386.13,342.29 L387.90,343.26 L389.67,344.24 L391.43,345.23 L393.19,346.22 L394.94,347.23 L396.69,348.23 L398.44,349.25 L400.19,350.26 L401.93,351.28 L403.68,352.30 L405.42,353.32 L407.16,354.34 L408.90,355.36 L410.64,356.37 L412.38,357.39 L414.11,358.39 L415.85,359.40 L417.59,360.40 L419.33,361.40 L421.06,362.40 L422.80,363.39 L424.53,364.38 L426.27,365.37 L428.01,366.35 L429.74,367.33 L431.48,368.31 L433.22,369.29 L434.95,370.26 L436.69,371.23 L438.43,372.20 L440.17,373.16 L441.91,374.12 L443.65,375.08 L445.39,376.04 L447.13,376.99 L448.87,377.94 L450.61,378.89 L452.36,379.84 L454.10,380.78 L455.85,381.73 L457.59,382.67 L459.34,383.60 L461.09,384.54 L462.84,385.47 L464.60,386.41 L466.35,387.34 L468.10,388.26 L469.86,389.19 L471.62,390.11 L473.38,391.04 L475.14,391.96 L476.90,392.87 L478.67,393.79 L480.44,394.70 L482.20,395.61 L483.97,396.52 L485.75,397.43 L487.52,398.33 L489.30,399.23 L491.07,400.13 L492.85,401.03 L494.63,401.92 L496.41,402.81 L498.20,403.70 L499.98,404.58 L501.77,405.46 L503.56,406.34 L505.35,407.21 L507.15,408.08 L508.94,408.95 L510.74,409.82 L512.54,410.68 L514.34,411.53 L516.14,412.39 L517.94,413.23 L519.75,414.08 L521.56,414.92 L523.37,415.76 L525.18,416.59 L526.99,417.42 L528.81,418.25 L530.63,419.07 L532.45,419.88 L534.27,420.69 L536.09,421.50 L537.92,422.30 L539.75,423.10 L541.58,423.90 L543.41,424.68 L545.24,425.47 L547.08,426.25 L548.92,427.02 L550.76,427.79 L552.60,428.55 L554.44,429.31 L556.29,430.06 L558.14,430.81 L559.99,431.55 L561.84,432.29 L563.69,433.02 L565.55,433.74 L567.41,434.46 L569.27,435.17 L571.13,435.88 L573.00,436.58 L574.87,437.28 L576.74,437.97 L578.61,438.65 L580.48,439.33 L582.36,440.01 L584.23,440.68 L586.11,441.34 L587.99,442.00 L589.88,442.66 L591.76,443.31 L593.64,443.95 L595.53,444.60 L597.42,445.23 L599.31,445.87 L601.20,446.50 L603.10,447.12 L604.99,447.74 L606.89,448.36 L608.78,448.97 L610.68,449.58 L612.58,450.19 L614.48,450.79 L616.38,451.39 L618.29,451.99 L620.19,452.58 L622.09,453.17 L624.00,453.76 L625.91,454.34 L627.81,454.93 L629.72,455.51 L631.63,456.08 L633.54,456.66 L635.45,457.23 L637.36,457.80 L639.27,458.37 L641.19,458.94 L643.10,459.50 L645.01,460.07 L646.93,460.63 L648.84,461.19 L650.75,461.75 L652.67,462.30 L654.58,462.86 L656.50,463.41 L658.41,463.97 L660.33,464.52 L662.24,465.07 L664.16,465.62 L666.08,466.18 L667.99,466.73 L669.91,467.28 L671.82,467.83 L673.74,468.38 L675.65,468.93 L677.57,469.48 L679.48,470.03 L681.40,470.58 L683.31,471.13 L685.22,471.68 L687.13,472.23 L689.05,472.78 L690.96,473.33 L692.87,473.89" stroke="#ff40ff" stroke-width="1.6" fill="none"/>
</svg></body></html>
